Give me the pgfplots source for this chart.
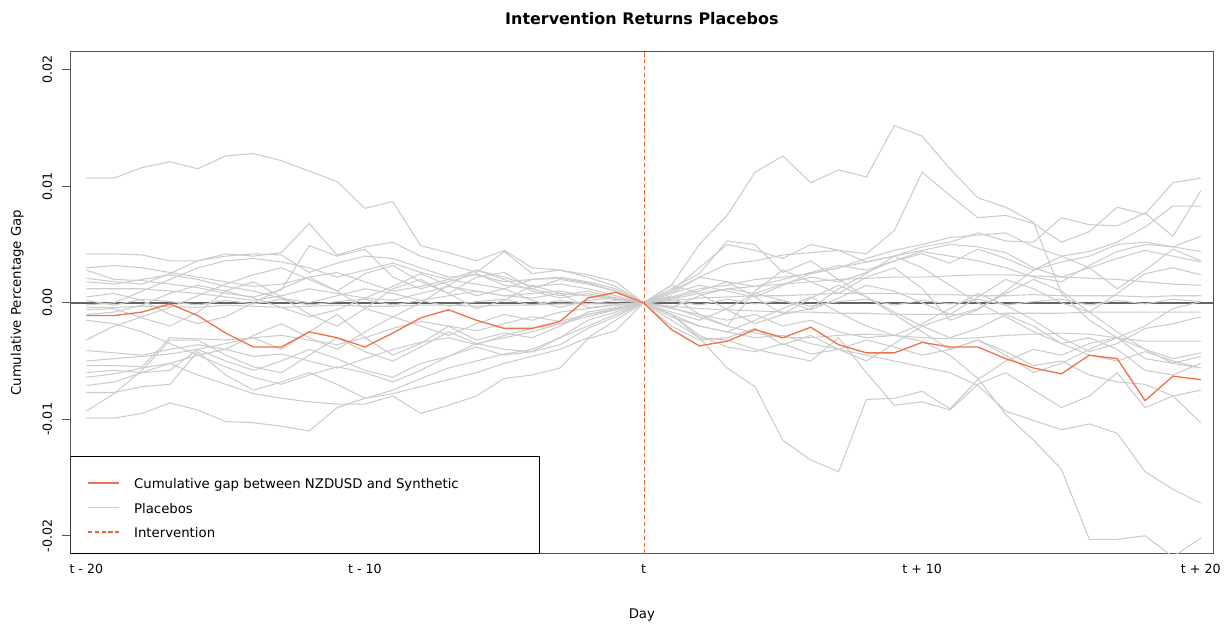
\documentclass[border=0pt]{standalone}
\usepackage{fontspec}
\setmainfont{DejaVu Sans}
\usepackage{pgfplots}
\pgfplotsset{compat=1.18}
\definecolor{org}{RGB}{238,115,77}
\definecolor{dsh}{RGB}{240,100,50}
\definecolor{plc}{RGB}{204,204,204}
\definecolor{axc}{RGB}{85,85,85}
\definecolor{zer}{RGB}{100,100,100}
\newcommand{\pl}[1]{\addplot[plc, line width=0.8pt, forget plot] table[x expr=\coordindex-20, y index=0, header=false, row sep=\\]{#1};}
\begin{document}
\begin{tikzpicture}
\begin{axis}[name=ax, scale only axis, width=860.25pt, height=378pt,
  xmin=-20.56, xmax=20.44, ymin=-0.02154, ymax=0.02154,
  axis line style={axc, line width=0.75pt},
  xtick={-20,-10,0,10,20}, xticklabels={t - 20,t - 10,t,t + 10,t + 20},
  ytick={-0.02,-0.01,0,0.01,0.02}, yticklabels={-0.02,-0.01,0.00,0.01,0.02},
  scaled y ticks=false,
  tick align=outside, major tick length=6.75pt,
  xtick style={draw=none}, ytick style={axc, line width=0.75pt},
  xtick pos=bottom, ytick pos=left,
  tick label style={font=\fontsize{9.5}{11}\selectfont, text=black},
  xticklabel style={anchor=base, yshift=-8.25pt},
  yticklabel style={xshift=-7.5pt, rotate=90, anchor=base},
  clip=true,
  legend style={draw=none, fill=none, at={(rel axis cs:0,0)}, anchor=south west, xshift=12pt, yshift=10pt, inner xsep=0pt, inner ysep=0pt, row sep=8.9pt, column sep=11pt, font=\fontsize{10}{12}\selectfont, nodes={inner sep=0pt, text height=7.5pt, text depth=2pt}},
  legend cell align=left,
  legend image code/.code={\draw[#1] (0pt,1.6pt) -- (23.25pt,1.6pt);},
]
\addlegendimage{draw=org, line width=1pt}
\addlegendentry{Cumulative gap between NZDUSD and Synthetic}
\addlegendimage{draw=plc, line width=0.8pt}
\addlegendentry{Placebos}
\addlegendimage{draw=dsh, line width=1.3pt, dash pattern=on 3.2pt off 2pt}
\addlegendentry{Intervention}

\addplot[color=zer, line width=1.2pt, forget plot] coordinates {(-20.56,0) (20.44,0)};

\pl{0.0107\\0.0107\\0.0116\\0.0121\\0.0115\\0.0126\\0.0128\\0.0122\\0.0113\\0.0104\\0.0081\\0.0087\\0.0049\\0.0043\\0.0036\\0.0045\\0.0030\\0.0028\\0.0022\\0.0014\\0\\0.0010\\0.0030\\0.0050\\0.0045\\0.0038\\0.0050\\0.0045\\0.0035\\0.0040\\0.0048\\0.0052\\0.0060\\0.0053\\0.0052\\0.0073\\0.0067\\0.0066\\0.0077\\0.0057\\0.0096\\}
\pl{0.0042\\0.0042\\0.0041\\0.0036\\0.0036\\0.0040\\0.0042\\0.0041\\0.0026\\0.0034\\0.0040\\0.0038\\0.0030\\0.0022\\0.0024\\0.0018\\0.0020\\0.0021\\0.0017\\0.0010\\0\\0.0015\\0.0050\\0.0075\\0.0112\\0.0126\\0.0103\\0.0114\\0.0108\\0.0152\\0.0143\\0.0115\\0.0090\\0.0082\\0.0069\\0.0008\\-0.0015\\-0.0030\\-0.0020\\-0.0005\\0.0001\\}
\pl{0.0021\\0.0018\\0.0016\\0.0025\\0.0036\\0.0042\\0.0040\\0.0043\\0.0068\\0.0041\\0.0048\\0.0052\\0.0040\\0.0033\\0.0026\\0.0044\\0.0025\\0.0028\\0.0024\\0.0018\\0\\0.0012\\0.0025\\0.0053\\0.0050\\0.0026\\0.0036\\0.0020\\0.0005\\-0.0010\\-0.0025\\-0.0040\\-0.0032\\-0.0045\\-0.0060\\-0.0052\\-0.0040\\-0.0030\\-0.0048\\-0.0052\\-0.0056\\}
\pl{0.0028\\0.0020\\0.0019\\0.0016\\0.0013\\0.0008\\0.0005\\0.0011\\0.0049\\0.0040\\0.0046\\0.0022\\0.0012\\0.0018\\0.0025\\0.0015\\0.0012\\0.0020\\0.0016\\0.0010\\0\\0.0008\\0.0022\\0.0033\\0.0036\\0.0041\\0.0043\\0.0045\\0.0042\\0.0062\\0.0112\\0.0092\\0.0073\\0.0075\\0.0068\\0.0052\\0.0061\\0.0082\\0.0076\\0.0103\\0.0107\\}
\pl{0.0012\\0.0012\\0.0012\\0.0010\\0.0008\\0.0005\\0.0002\\0.0006\\0.0012\\0.0008\\0.0004\\0.0002\\0.0008\\0.0014\\0.0010\\0.0006\\0.0008\\0.0010\\0.0006\\0.0003\\0\\0.0003\\0.0008\\0.0012\\0.0014\\0.0016\\0.0018\\0.0020\\0.0021\\0.0022\\0.0022\\0.0023\\0.0024\\0.0024\\0.0023\\0.0022\\0.0021\\0.0020\\0.0018\\0.0016\\0.0015\\}
\pl{-0.0002\\0.0000\\0.0010\\0.0020\\0.0030\\0.0036\\0.0038\\0.0035\\0.0030\\0.0022\\0.0028\\0.0034\\0.0026\\0.0020\\0.0028\\0.0022\\0.0014\\0.0016\\0.0012\\0.0006\\0\\0.0005\\0.0012\\0.0015\\0.0020\\0.0022\\0.0025\\0.0030\\0.0038\\0.0045\\0.0050\\0.0056\\0.0058\\0.0060\\0.0048\\0.0040\\0.0044\\0.0052\\0.0065\\0.0083\\0.0083\\}
\pl{0.0002\\-0.0002\\0.0003\\0.0001\\-0.0002\\0.0002\\-0.0001\\0.0003\\-0.0002\\0.0001\\0.0003\\-0.0002\\0.0002\\-0.0003\\0.0001\\0.0003\\-0.0002\\0.0002\\-0.0001\\0.0002\\0\\0.0002\\-0.0002\\0.0003\\-0.0001\\0.0002\\-0.0003\\0.0001\\0.0003\\-0.0002\\0.0002\\-0.0001\\0.0003\\-0.0002\\0.0001\\0.0003\\-0.0002\\0.0002\\-0.0001\\0.0003\\0.0001\\}
\pl{-0.0004\\-0.0004\\-0.0003\\-0.0003\\-0.0004\\-0.0002\\-0.0003\\-0.0004\\-0.0003\\-0.0002\\-0.0003\\-0.0003\\-0.0002\\-0.0002\\-0.0003\\-0.0002\\-0.0002\\-0.0001\\-0.0001\\-0.0001\\0\\-0.0003\\-0.0005\\-0.0006\\-0.0007\\-0.0008\\-0.0008\\-0.0009\\-0.0009\\-0.0010\\-0.0010\\-0.0010\\-0.0010\\-0.0009\\-0.0009\\-0.0009\\-0.0008\\-0.0008\\-0.0008\\-0.0008\\-0.0008\\}
\pl{-0.0006\\-0.0005\\-0.0013\\-0.0020\\-0.0008\\0.0010\\0.0018\\0.0005\\-0.0010\\-0.0020\\-0.0005\\0.0012\\0.0020\\0.0008\\-0.0005\\0.0002\\0.0015\\0.0008\\-0.0004\\-0.0002\\0\\0.0006\\-0.0010\\-0.0020\\0.0010\\0.0028\\0.0018\\0.0008\\0.0022\\0.0030\\0.0012\\-0.0015\\-0.0006\\0.0010\\0.0028\\0.0040\\0.0030\\0.0012\\0.0028\\0.0046\\0.0036\\}
\pl{-0.0032\\-0.0020\\-0.0012\\-0.0004\\0.0006\\0.0016\\0.0024\\0.0030\\0.0020\\0.0010\\0.0025\\0.0032\\0.0018\\0.0008\\0.0022\\0.0026\\0.0012\\0.0006\\0.0010\\0.0004\\0\\0.0010\\0.0022\\0.0018\\0.0005\\-0.0010\\-0.0005\\0.0012\\0.0025\\0.0040\\0.0030\\0.0015\\0.0000\\-0.0012\\-0.0025\\-0.0035\\-0.0030\\-0.0040\\-0.0058\\-0.0062\\-0.0052\\}
\pl{-0.0041\\-0.0043\\-0.0045\\-0.0040\\-0.0036\\-0.0040\\-0.0046\\-0.0044\\-0.0050\\-0.0056\\-0.0048\\-0.0040\\-0.0034\\-0.0030\\-0.0036\\-0.0028\\-0.0022\\-0.0018\\-0.0012\\-0.0006\\0\\-0.0004\\-0.0012\\-0.0020\\-0.0026\\-0.0030\\-0.0030\\-0.0028\\-0.0027\\-0.0028\\-0.0030\\-0.0031\\-0.0030\\-0.0028\\-0.0027\\-0.0026\\-0.0027\\-0.0030\\-0.0033\\-0.0033\\-0.0033\\}
\pl{-0.0054\\-0.0054\\-0.0055\\-0.0030\\-0.0031\\-0.0032\\-0.0030\\-0.0040\\-0.0025\\-0.0010\\-0.0030\\-0.0045\\-0.0035\\-0.0020\\-0.0032\\-0.0026\\-0.0030\\-0.0020\\-0.0008\\-0.0004\\0\\-0.0020\\-0.0032\\-0.0030\\-0.0022\\-0.0036\\-0.0028\\-0.0040\\-0.0050\\-0.0035\\-0.0020\\-0.0012\\-0.0005\\0.0008\\0.0020\\0.0010\\-0.0008\\-0.0025\\-0.0040\\-0.0052\\-0.0046\\}
\pl{-0.0064\\-0.0061\\-0.0056\\-0.0052\\-0.0045\\-0.0055\\-0.0064\\-0.0070\\-0.0062\\-0.0055\\-0.0060\\-0.0068\\-0.0058\\-0.0046\\-0.0035\\-0.0040\\-0.0042\\-0.0030\\-0.0020\\-0.0010\\0\\-0.0010\\-0.0028\\-0.0038\\-0.0042\\-0.0035\\-0.0044\\-0.0040\\-0.0032\\-0.0038\\-0.0045\\-0.0040\\-0.0032\\-0.0042\\-0.0054\\-0.0050\\-0.0062\\-0.0068\\-0.0070\\-0.0080\\-0.0075\\}
\pl{-0.0071\\-0.0068\\-0.0060\\-0.0058\\-0.0040\\-0.0050\\-0.0058\\-0.0050\\-0.0040\\-0.0048\\-0.0058\\-0.0064\\-0.0052\\-0.0046\\-0.0038\\-0.0045\\-0.0042\\-0.0036\\-0.0022\\-0.0012\\0\\-0.0010\\-0.0030\\-0.0056\\-0.0072\\-0.0118\\-0.0135\\-0.0145\\-0.0083\\-0.0082\\-0.0076\\-0.0091\\-0.0066\\-0.0050\\-0.0040\\-0.0045\\-0.0035\\-0.0030\\-0.0040\\-0.0048\\-0.0043\\}
\pl{-0.0077\\-0.0077\\-0.0072\\-0.0070\\-0.0042\\-0.0062\\-0.0075\\-0.0068\\-0.0060\\-0.0070\\-0.0082\\-0.0075\\-0.0065\\-0.0056\\-0.0050\\-0.0044\\-0.0040\\-0.0030\\-0.0015\\-0.0008\\0\\-0.0015\\-0.0030\\-0.0032\\-0.0040\\-0.0045\\-0.0050\\-0.0030\\-0.0060\\-0.0088\\-0.0085\\-0.0092\\-0.0070\\-0.0060\\-0.0075\\-0.0090\\-0.0080\\-0.0060\\-0.0090\\-0.0080\\-0.0103\\}
\pl{-0.0093\\-0.0078\\-0.0058\\-0.0032\\-0.0032\\-0.0045\\-0.0055\\-0.0060\\-0.0045\\-0.0030\\-0.0042\\-0.0050\\-0.0038\\-0.0025\\-0.0035\\-0.0030\\-0.0025\\-0.0018\\-0.0010\\-0.0005\\0\\0.0004\\0.0010\\0.0018\\0.0014\\0.0020\\0.0026\\0.0032\\0.0028\\0.0036\\0.0044\\0.0040\\0.0036\\0.0030\\0.0022\\0.0018\\0.0032\\0.0044\\0.0050\\0.0048\\0.0057\\}
\pl{-0.0099\\-0.0099\\-0.0095\\-0.0086\\-0.0092\\-0.0102\\-0.0103\\-0.0106\\-0.0110\\-0.0090\\-0.0082\\-0.0078\\-0.0072\\-0.0066\\-0.0060\\-0.0052\\-0.0046\\-0.0040\\-0.0030\\-0.0015\\0\\-0.0010\\-0.0020\\-0.0025\\-0.0030\\-0.0028\\-0.0035\\-0.0040\\-0.0045\\-0.0050\\-0.0055\\-0.0060\\-0.0071\\-0.0093\\-0.0101\\-0.0109\\-0.0104\\-0.0112\\-0.0145\\-0.0160\\-0.0172\\}
\pl{-0.0060\\-0.0058\\-0.0060\\-0.0052\\-0.0062\\-0.0070\\-0.0078\\-0.0082\\-0.0085\\-0.0087\\-0.0087\\-0.0080\\-0.0095\\-0.0088\\-0.0080\\-0.0065\\-0.0062\\-0.0056\\-0.0031\\-0.0024\\0\\-0.0005\\-0.0010\\-0.0015\\-0.0010\\-0.0020\\-0.0015\\-0.0025\\-0.0030\\-0.0028\\-0.0033\\-0.0045\\-0.0065\\-0.0096\\-0.0118\\-0.0143\\-0.0203\\-0.0203\\-0.0200\\-0.0218\\-0.0202\\}
\pl{0.0005\\0.0008\\0.0002\\-0.0010\\-0.0018\\-0.0012\\0.0000\\0.0012\\0.0022\\0.0010\\-0.0005\\-0.0012\\0.0000\\0.0015\\0.0028\\0.0020\\0.0010\\0.0004\\0.0008\\0.0003\\0\\-0.0008\\-0.0015\\-0.0005\\0.0008\\0.0002\\-0.0006\\0.0004\\0.0015\\0.0010\\0.0000\\-0.0010\\0.0005\\0.0020\\0.0012\\0.0000\\-0.0008\\0.0008\\0.0025\\0.0030\\0.0024\\}
\pl{-0.0015\\-0.0018\\-0.0025\\-0.0035\\-0.0045\\-0.0040\\-0.0028\\-0.0018\\-0.0030\\-0.0040\\-0.0025\\-0.0012\\-0.0020\\-0.0028\\-0.0018\\-0.0010\\-0.0015\\-0.0008\\-0.0005\\-0.0002\\0\\-0.0012\\-0.0020\\-0.0025\\-0.0015\\-0.0005\\0.0005\\-0.0008\\-0.0020\\-0.0028\\-0.0018\\-0.0005\\0.0008\\-0.0002\\-0.0015\\-0.0030\\-0.0042\\-0.0035\\-0.0022\\-0.0018\\-0.0012\\}
\pl{0.0030\\0.0032\\0.0030\\0.0026\\0.0022\\0.0018\\0.0014\\0.0016\\0.0022\\0.0026\\0.0018\\0.0010\\0.0014\\0.0020\\0.0016\\0.0012\\0.0020\\0.0022\\0.0018\\0.0012\\0\\0.0008\\0.0015\\0.0010\\0.0005\\0.0015\\0.0025\\0.0030\\0.0035\\0.0040\\0.0045\\0.0050\\0.0048\\0.0043\\0.0030\\0.0022\\0.0030\\0.0038\\0.0045\\0.0040\\0.0035\\}
\pl{-0.0010\\-0.0008\\-0.0002\\0.0008\\0.0015\\0.0010\\0.0004\\-0.0004\\-0.0012\\-0.0006\\0.0004\\0.0014\\0.0025\\0.0015\\0.0006\\0.0012\\0.0002\\-0.0004\\0.0002\\0.0004\\0\\-0.0004\\0.0006\\0.0012\\0.0008\\0.0016\\0.0022\\0.0018\\0.0026\\0.0036\\0.0042\\0.0034\\0.0046\\0.0038\\0.0028\\0.0035\\0.0040\\0.0050\\0.0052\\0.0048\\0.0044\\}
\pl{-0.0050\\-0.0048\\-0.0046\\-0.0044\\-0.0040\\-0.0035\\-0.0030\\-0.0028\\-0.0032\\-0.0036\\-0.0030\\-0.0022\\-0.0016\\-0.0020\\-0.0024\\-0.0018\\-0.0012\\-0.0016\\-0.0010\\-0.0006\\0\\0.0015\\0.0008\\-0.0006\\-0.0018\\-0.0010\\0.0004\\0.0015\\0.0005\\-0.0008\\-0.0020\\-0.0030\\-0.0022\\-0.0010\\-0.0020\\-0.0035\\-0.0045\\-0.0050\\-0.0042\\-0.0050\\-0.0056\\}
\pl{0.0018\\0.0016\\0.0020\\0.0024\\0.0020\\0.0014\\0.0010\\0.0004\\0.0000\\0.0006\\0.0012\\0.0008\\0.0002\\0.0006\\0.0010\\0.0006\\0.0004\\0.0008\\0.0006\\0.0004\\0\\0.0002\\0.0004\\0.0005\\0.0006\\0.0006\\0.0007\\0.0008\\0.0008\\0.0008\\0.0007\\0.0007\\0.0006\\0.0006\\0.0007\\0.0006\\0.0006\\0.0006\\0.0005\\0.0006\\0.0006\\}

\addplot[color=org, line width=1pt, forget plot] table[x expr=\coordindex-20, y index=0, header=false, row sep=\\]{-0.0011\\-0.0011\\-0.0008\\-0.0001\\-0.0011\\-0.0026\\-0.0038\\-0.0038\\-0.0025\\-0.0030\\-0.0038\\-0.0026\\-0.0013\\-0.0006\\-0.0015\\-0.0022\\-0.0022\\-0.0016\\0.0004\\0.0009\\0\\-0.0023\\-0.0037\\-0.0033\\-0.0023\\-0.0030\\-0.0021\\-0.0036\\-0.0043\\-0.0043\\-0.0034\\-0.0038\\-0.0038\\-0.0048\\-0.0056\\-0.0061\\-0.0045\\-0.0048\\-0.0084\\-0.0063\\-0.0066\\};

\addplot[draw=dsh, line width=1.1pt, dash pattern=on 3.2pt off 2pt, forget plot] coordinates {(0.04,-0.02154) (0.04,0.02154)};

\draw[black, line width=0.75pt, fill=white] (rel axis cs:0,0) rectangle ([xshift=353.25pt,yshift=73.5pt]rel axis cs:0,0);
\end{axis}
\node[anchor=base, font=\bfseries\fontsize{12}{14}\selectfont] at ([yshift=20.6pt]ax.north) {Intervention Returns Placebos};
\node[anchor=base, font=\fontsize{10}{12}\selectfont] at ([yshift=-48.75pt]ax.south) {Day};
\node[anchor=base, rotate=90, font=\fontsize{10}{12}\selectfont] at ([xshift=-37.5pt]ax.west) {Cumulative Percentage Gap};
\path ([xshift=-53.25pt,yshift=-51pt]ax.south west) rectangle ([xshift=5.25pt,yshift=39pt]ax.north east);
\end{tikzpicture}
\end{document}
